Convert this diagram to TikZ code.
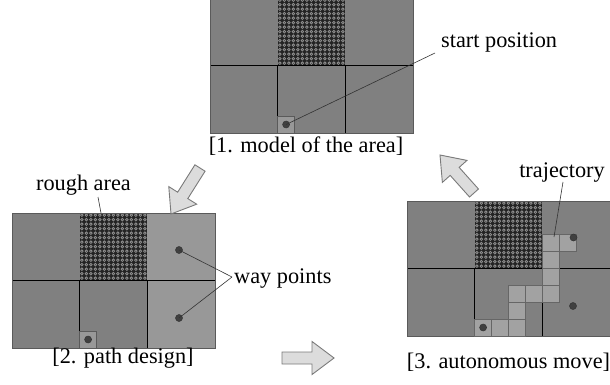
\documentclass[tikz,border=0pt]{standalone}
\usepackage{fontspec}
\setmainfont{Liberation Serif}
\usetikzlibrary{calc}
\definecolor{cellgray}{HTML}{808080}
\definecolor{lightcell}{HTML}{989898}
\definecolor{trajcell}{HTML}{A2A2A2}
\definecolor{dotgray}{HTML}{404040}
\definecolor{hatchdark}{HTML}{242424}
\definecolor{hatchring}{HTML}{8E8E8E}
\definecolor{arrowfill}{HTML}{DCDCDC}
\definecolor{arrowline}{HTML}{7A7A7A}
\definecolor{bordergray}{HTML}{5A5A5A}
\tikzset{
  lbl/.style={font=\fontsize{22.3}{26}\selectfont, inner sep=0pt, anchor=base},
  wpdot/.style={circle, fill=dotgray, draw=black!80, line width=0.5pt, inner sep=0pt, minimum size=7pt},
  leader/.style={draw=black!80, line width=0.6pt},
  gridline/.style={draw=black, line width=0.8pt},
  outline/.style={draw=bordergray, line width=0.8pt},
  smallcell/.style={fill=lightcell, draw=bordergray, line width=0.6pt},
  trajbox/.style={fill=trajcell, draw=black!60, line width=0.6pt},
  fatarrow/.style={fill=arrowfill, draw=arrowline, line width=0.9pt, line join=miter},
}
\newcommand{\panelbase}{%
  \fill[cellgray] (0,0) rectangle (203,135);
  \begin{scope}
    \clip (67.67,0) rectangle (135.33,67.5);
    \fill[hatchdark] (67.67,0) rectangle (135.33,67.5);
    \foreach \i in {0,...,15}{\foreach \j in {0,...,15}{%
      \draw[hatchring, line width=0.8pt] (67.67+\i*4.5+2.2, \j*4.5+2.2) circle (1.3pt);}}
  \end{scope}
}
\newcommand{\panellines}{%
  \draw[gridline] (0,67.5) -- (203,67.5);
  \draw[gridline] (67.67,67.5) -- (67.67,135);
  \draw[gridline] (135.33,67.5) -- (135.33,135);
}
\newcommand{\drawfat}[2]{%
  \coordinate (fb) at ($(#2)!22pt!(#1)$);
  \draw[fatarrow] ($(#1)!6pt!90:(#2)$) -- ($(fb)!6pt!90:(#2)$) -- ($(fb)!16.5pt!90:(#2)$)
    -- (#2) -- ($(fb)!16.5pt!-90:(#2)$) -- ($(fb)!6pt!-90:(#2)$) -- ($(#1)!6pt!-90:(#2)$) -- cycle;
}
\begin{document}
\begin{tikzpicture}[x=1pt,y=-1pt]
\useasboundingbox (0,0) rectangle (610,385);

% ---------- panel 1 ----------
\begin{scope}[shift={(210,-2)}]
  \panelbase
  \panellines
  \draw[outline] (0,0) rectangle (203,135);
  \draw[smallcell] (67.67,118.08) rectangle (84.59,135);
  \node[wpdot] (sdot1) at (76.1,126.5) {};
\end{scope}
\coordinate (startpt) at (435,53);
\node[lbl, anchor=base west] (startlbl) at (441,48) {start position};
\draw[leader] (sdot1.center) -- (startpt);
\node[lbl] (lbl1) at (306,152) {[1. model of the area]};

% ---------- panel 2 ----------
\begin{scope}[shift={(12,213)}]
  \panelbase
  \fill[lightcell] (135.33,0) rectangle (203,135);
  \panellines
  \draw[outline] (0,0) rectangle (203,135.5);
  \draw[smallcell] (67.67,118.08) rectangle (84.59,135);
  \node[wpdot] (sdot2) at (76.1,126.5) {};
  \node[wpdot] (wpA2) at (167,37) {};
  \node[wpdot] (wpB2) at (167,105) {};
\end{scope}
\node[lbl] (roughlbl) at (83.5,190) {rough area};
\coordinate (roughtop) at (98,197);
\coordinate (roughpt) at (101,213);
\draw[leader] (roughtop) -- (roughpt);
\coordinate (wpj) at (232,277);
\node[lbl, anchor=base west] (wplbl) at (234,283) {way points};
\draw[leader] (wpA2.center) -- (wpj);
\draw[leader] (wpB2.center) -- (wpj);
\node[lbl] (lbl2) at (123,363) {[2. path design]};

% ---------- panel 3 ----------
\begin{scope}[shift={(407,201)}]
  \panelbase
  \panellines
  \draw[outline] (0,0) rectangle (203,135);
  \foreach \c/\r in {0/0,1/0,2/0,2/1,2/2,3/2,4/2,4/3,4/4,4/5,5/5}{%
    \draw[trajbox] (67.67+\c*16.92, 135-\r*16.92-16.92) rectangle ++(16.92,16.92);}
  \node[wpdot] (sdot3) at (76.1,126.5) {};
  \node[wpdot] (wpA3) at (166.5,36.5) {};
  \node[wpdot] (wpB3) at (166,105) {};
  \coordinate (trajpt) at (147,36);
\end{scope}
\node[lbl] (trajlbl) at (562,177) {trajectory};
\coordinate (trajtop) at (563,182);
\draw[leader] (trajtop) -- (trajpt);
\node[lbl] (lbl3) at (508.5,368) {[3. autonomous move]};

% ---------- big arrows ----------
\coordinate (a1t) at (200,168);
\coordinate (a1h) at (171,214);
\drawfat{a1t}{a1h}
\coordinate (a2t) at (282,358);
\coordinate (a2h) at (334,358);
\drawfat{a2t}{a2h}
\coordinate (a3t) at (474,193);
\coordinate (a3h) at (440,155);
\drawfat{a3t}{a3h}
\end{tikzpicture}
\end{document}
